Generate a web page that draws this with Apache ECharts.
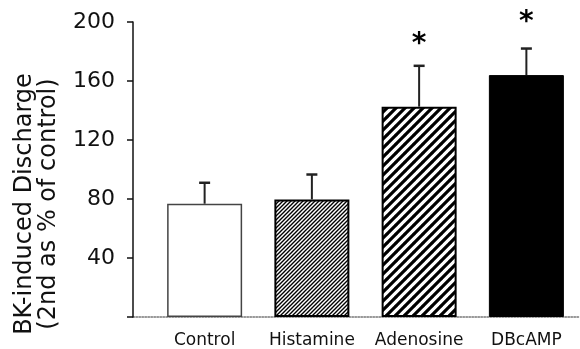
<!DOCTYPE html>
<html>
<head>
<meta charset="utf-8">
<script src="https://cdn.jsdelivr.net/npm/echarts@6/dist/echarts.min.js"></script>
<style>html,body{margin:0;padding:0;background:#fff}#c{width:580px;height:349px}</style>
</head>
<body>
<div id="c"></div>
<script>
var categories = ['Control', 'Histamine', 'Adenosine', 'DBcAMP'];
var means = [76.8, 79.7, 142.6, 164];
var errTop = [91, 96.6, 170.3, 182];
var significance = ['', '', '*', '*'];
var markY = [null, null, 188.5, 203.5];
var yTicks = [0, 40, 80, 120, 160, 200];

function hatch(size, lw) {
  var c = document.createElement('canvas');
  c.width = size; c.height = size;
  var g = c.getContext('2d');
  g.fillStyle = '#fff'; g.fillRect(0, 0, size, size);
  g.strokeStyle = '#000'; g.lineWidth = lw;
  g.beginPath();
  for (var k = -1; k <= 1; k++) {
    g.moveTo(k * size - 1, size + 1);
    g.lineTo(k * size + size + 1, -1);
  }
  g.stroke();
  return c;
}
var fineHatch = hatch(4, 1.4);
var boldHatch = hatch(9, 3.2);

var barStyles = [
  {color: '#fff', borderColor: '#444', borderWidth: 1.5},
  {color: {image: fineHatch, repeat: 'repeat'}, borderColor: '#000', borderWidth: 2},
  {color: {image: boldHatch, repeat: 'repeat'}, borderColor: '#000', borderWidth: 2},
  {color: '#000', borderColor: '#000', borderWidth: 1}
];

var chart = echarts.init(document.getElementById('c'));
chart.setOption({
  animation: false,
  backgroundColor: '#fff',
  grid: [
    {left: 133, right: 0, top: 22, bottom: 32},
    {left: 151, right: 0, top: 22, bottom: 32}
  ],
  xAxis: [
    {gridIndex: 0, type: 'category', data: categories,
     axisLine: {show: true, lineStyle: {color: '#777', width: 1.5, type: 'dotted'}},
     axisTick: {show: false}, axisLabel: {show: false}, z: 1},
    {gridIndex: 1, type: 'category', data: categories,
     axisLine: {show: false}, axisTick: {show: false},
     axisLabel: {interval: 0, fontFamily: 'DejaVu Sans', fontSize: 17, color: '#111', margin: 15}}
  ],
  yAxis: [
    {gridIndex: 0, type: 'value', min: yTicks[0], max: yTicks[yTicks.length - 1], interval: 40,
     splitLine: {show: false},
     axisLine: {show: true, lineStyle: {color: '#111', width: 1.5}},
     axisTick: {show: true, length: 6, lineStyle: {color: '#111', width: 1.5}},
     axisLabel: {fontFamily: 'DejaVu Sans', fontSize: 22, color: '#111', margin: 18,
       formatter: function (v) { return v === 0 ? '' : String(v); }},
     name: 'BK-induced Discharge\n(2nd as % of control)',
     nameLocation: 'middle', nameRotate: 90, nameGap: 72,
     nameTextStyle: {fontFamily: 'DejaVu Sans', fontSize: 24, lineHeight: 24, color: '#111',
       padding: [0, 69, 0, 0]},
     z: 5},
    {gridIndex: 1, type: 'value', min: 0, max: 200, interval: 40, show: false}
  ],
  series: [
    {type: 'bar', xAxisIndex: 1, yAxisIndex: 1, barWidth: 75,
     data: means.map(function (v, i) { return {value: v, itemStyle: barStyles[i]}; }),
     z: 2},
    {type: 'custom', xAxisIndex: 1, yAxisIndex: 1, z: 3,
     data: categories.map(function (c, i) { return [i, means[i], errTop[i], markY[i]]; }),
     renderItem: function (params, api) {
       var i = api.value(0);
       var base = api.coord([i, api.value(1)]);
       var top = api.coord([i, api.value(2)]);
       var children = [
         {type: 'line', shape: {x1: base[0], y1: base[1], x2: top[0], y2: top[1]},
          style: {stroke: '#222', lineWidth: 2}},
         {type: 'line', shape: {x1: top[0] - 5.5, y1: top[1], x2: top[0] + 5.5, y2: top[1]},
          style: {stroke: '#222', lineWidth: 2.5}}
       ];
       var s = significance[i];
       if (s) {
         var m = api.coord([i, api.value(3)]);
         children.push({type: 'text', style: {text: s, x: m[0], y: m[1] + 6,
           align: 'center', verticalAlign: 'middle',
           font: 'bold 28px "DejaVu Sans"', fill: '#000'}});
       }
       return {type: 'group', children: children};
     }}
  ]
});
</script>
</body>
</html>
